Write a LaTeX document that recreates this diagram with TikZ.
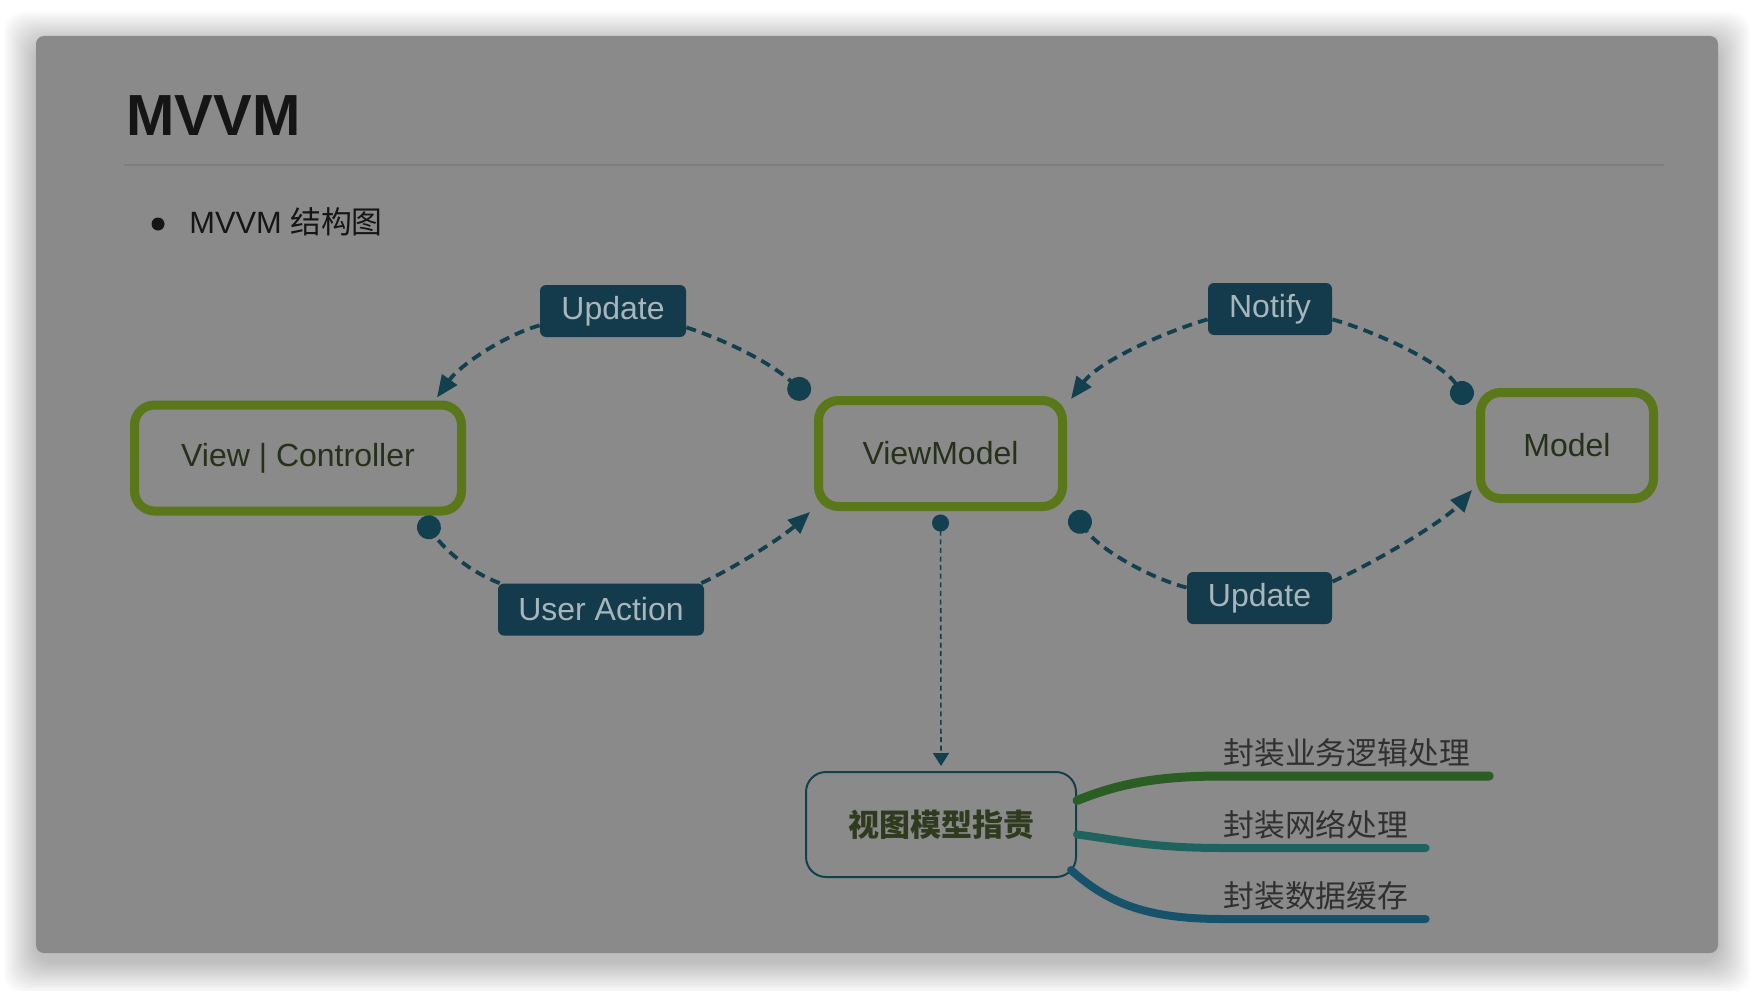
\documentclass[tikz,border=0pt]{standalone}
\usepackage{fontspec}
\setmainfont{Liberation Sans}
\newfontfamily\cjkfont{Noto Sans CJK SC}
\usepackage{xcolor}
\usetikzlibrary{arrows.meta}

\definecolor{panelgray}{HTML}{8A8A8A}
\definecolor{rulegray}{HTML}{7E7E7E}
\definecolor{inkblack}{HTML}{151515}
\definecolor{boxgreen}{HTML}{5A7819}
\definecolor{boxtext}{HTML}{26301A}
\definecolor{tagfill}{HTML}{143B4B}
\definecolor{tagtext}{HTML}{A8B6BB}
\definecolor{flowteal}{HTML}{13404F}
\definecolor{dutytext}{HTML}{2F3B1F}
\definecolor{leafgray}{HTML}{303030}
\definecolor{branchgreen}{HTML}{2A5E22}
\definecolor{branchteal}{HTML}{1F635E}
\definecolor{branchblue}{HTML}{16536A}

\begin{document}
\begin{tikzpicture}[x=0.5pt, y=-0.5pt,
  part/.style={rectangle, draw=boxgreen, line width=4.5pt, rounded corners=10pt,
               text=boxtext, font=\fontsize{16}{19}\selectfont,
               minimum height=53pt, inner sep=0pt},
  tag/.style={rectangle, fill=tagfill, rounded corners=3pt, text=tagtext,
              font=\fontsize{16}{19}\selectfont, minimum height=26pt, inner sep=0pt},
  flow/.style={draw=flowteal, line width=1.9pt, dash pattern=on 5pt off 3.2pt},
  todot/.style={flow, -{Circle[length=12pt]}},
  toarrow/.style={flow, -{Triangle[length=11pt,width=9pt]}},
  duty/.style={rectangle, draw=flowteal, line width=1pt, rounded corners=10pt,
               text=dutytext, font=\cjkfont\bfseries\fontsize{15.5}{18}\selectfont,
               minimum width=135pt, minimum height=52.5pt, inner sep=0pt},
  leaf/.style={anchor=south west, inner xsep=0pt, inner ysep=4pt, text=leafgray,
               font=\cjkfont\fontsize{15.4}{18}\selectfont},
  branch/.style={line width=4pt, line cap=round}
]
  % page, shadow and panel
  \useasboundingbox (0,0) rectangle (1754,990);
  \fill[white] (0,0) rectangle (1754,990);
  \foreach \s in {1,...,16}
    \fill[black, fill opacity=0.015, rounded corners=10pt]
      (36-2*\s, 44-2*\s) rectangle (1718+2*\s, 961+2*\s);
  \fill[panelgray, rounded corners=4pt] (36,36) rectangle (1718,953);

  % heading
  \node[anchor=base west, inner sep=0pt, text=inkblack,
        font=\fontsize{29}{34}\selectfont\bfseries] (title) at (126,135) {MVVM};
  \draw[rulegray, line width=1pt] (124,165) -- (1664,165);
  \fill[inkblack] (158,224) circle (6.5);
  \node[anchor=base west, inner sep=0pt, text=inkblack,
        font=\fontsize{15.4}{18}\selectfont] (subtitle) at (189,233) {MVVM {\cjkfont 结构图}};

  % layers
  \node[part, minimum width=163.5pt] (vc) at (298,458) {View | Controller};
  \node[part, minimum width=122pt] (vm) at (940.5,453.5) {ViewModel};
  \node[part, minimum width=86.5pt] (model) at (1567,445.5) {Model};

  % labels on the bindings
  \node[tag, minimum width=73pt] (upd1) at (613,311) {Update};
  \node[tag, minimum width=103pt] (act) at (601,609.5) {User Action};
  \node[tag, minimum width=62pt] (notify) at (1270,309) {Notify};
  \node[tag, minimum width=72.5pt] (upd2) at (1259.5,598) {Update};

  % view <-> view model
  \draw[todot] ([yshift=5pt]upd1.south east)
    .. controls (725,340) and (770,362) .. ([xshift=-3pt,yshift=-0.5pt]vm.north west);
  \draw[toarrow] ([yshift=6pt]upd1.south west)
    .. controls (505,335) and (460,365) .. ([xshift=-14.5pt,yshift=1.5pt]vc.north east);
  \draw[todot] ([xshift=1pt]act.north west)
    .. controls (470,572) and (445,550) .. ([xshift=-22pt,yshift=-1pt]vc.south east);
  \draw[toarrow] ([xshift=-1.5pt]act.north east)
    .. controls (740,565) and (785,535) .. ([xshift=-2pt,yshift=-0.5pt]vm.south west);

  % view model <-> model
  \draw[todot] ([yshift=8pt]notify.south east)
    .. controls (1370,330) and (1440,360) .. ([xshift=-3.7pt,yshift=-7.5pt]model.north west);
  \draw[toarrow] ([yshift=8pt]notify.south west)
    .. controls (1170,330) and (1100,360) .. ([xshift=2pt,yshift=-1.5pt]vm.north east);
  \draw[todot] ([yshift=-8pt]upd2.north west)
    .. controls (1150,578) and (1100,550) .. ([xshift=3pt,yshift=-0.5pt]vm.south east);
  \draw[toarrow] ([yshift=-5pt]upd2.north east)
    .. controls (1380,560) and (1445,520) .. ([xshift=-2pt,yshift=6.5pt]model.south west);

  % responsibilities
  \node[duty] (resp) at (941,824.5) {视图模型指责};
  \node[leaf] (job1) at (1223,776) {封装业务逻辑处理};
  \node[leaf] (job2) at (1223,848) {封装网络处理};
  \node[leaf] (job3) at (1223,919) {封装数据缓存};

  \draw[draw=flowteal, line width=0.8pt, dash pattern=on 2.5pt off 1.8pt,
        {Circle[length=8.5pt]}-{Triangle[length=6.5pt,width=8pt]}]
    ([yshift=-1.75pt]vm.south) -- ([yshift=2.5pt]resp.north);

  \draw[branch, branchgreen, line width=4.5pt] ([yshift=12pt]resp.east)
    .. controls (1120,783) and (1160,776) .. (job1.south west) -- ([xshift=9.5pt]job1.south east);
  \draw[branch, branchteal] ([yshift=-5pt]resp.east)
    .. controls (1120,840) and (1150,848) .. (job2.south west) -- ([xshift=8.5pt]job2.south east);
  \draw[branch, branchblue] ([xshift=-3pt,yshift=4pt]resp.south east)
    .. controls (1110,905) and (1150,919) .. (job3.south west) -- ([xshift=8.5pt]job3.south east);
\end{tikzpicture}
\end{document}
